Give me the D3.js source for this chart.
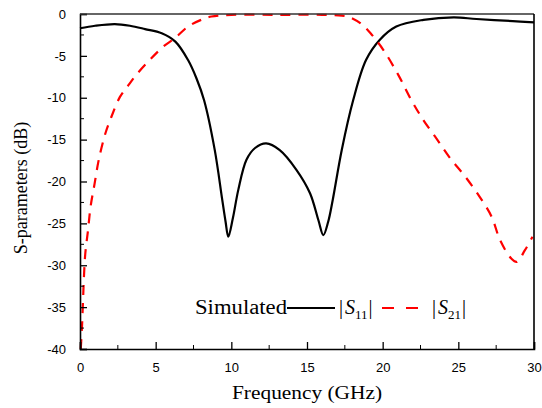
<!DOCTYPE html>
<html>
<head>
<meta charset="utf-8">
<script src="https://cdn.jsdelivr.net/npm/d3@7"></script>
<style>
  body { margin: 0; background: #fff; }
  svg { display: block; }
</style>
</head>
<body>
<div id="chart"></div>
<script>
// |S11| 曲线 (GHz, dB)
const s11Freq = [0, 1, 2.3, 3.3, 4.3, 5.4, 6.3, 7.14, 7.7, 8.2, 8.9, 9.4, 9.62, 9.8, 10.1, 10.46, 11.0, 11.57, 12.3, 13.2, 14.3, 15.2, 15.75, 16.08, 16.4, 16.7, 17.3, 18.05, 18.9, 19.8, 20.9, 22.7, 24.7, 26.2, 28.6, 30];
const s11Db   = [-1.7, -1.4, -1.2, -1.4, -1.8, -2.3, -3.3, -5.5, -7.7, -10.3, -16.2, -22.2, -24.8, -26.6, -24.4, -21.0, -17.4, -16.0, -15.45, -16.25, -18.6, -21.4, -24.6, -26.4, -24.8, -22.2, -16.2, -10.3, -5.5, -3.1, -1.5, -0.7, -0.4, -0.6, -0.85, -1.0];

// |S21| 曲线 (GHz, dB)
const s21Freq = [0.05, 0.13, 0.2, 0.26, 0.35, 0.53, 0.7, 0.97, 1.24, 1.67, 2.07, 2.64, 3.2, 3.7, 4.6, 5.5, 6.26, 7.14, 8.0, 8.68, 10, 13, 16, 17.3, 17.85, 18.6, 19.2, 20.05, 21.04, 21.9, 22.7, 23.57, 24.45, 25.45, 26.4, 27.2, 27.76, 28.5, 28.86, 29.4, 29.9];
const s21Db   = [-40, -37.4, -34.2, -31.4, -28.6, -25.8, -23.0, -20.2, -17.4, -14.3, -12.3, -9.9, -8.5, -7.3, -5.5, -3.9, -2.9, -1.5, -0.7, -0.3, -0.1, -0.1, -0.1, -0.2, -0.4, -1.2, -2.3, -4.3, -7.3, -10.3, -12.7, -14.9, -17.2, -19.4, -21.8, -24.2, -27.0, -29.2, -29.6, -28.2, -26.6];

const xTicks = [0, 5, 10, 15, 20, 25, 30];
const yTicks = [0, -5, -10, -15, -20, -25, -30, -35, -40];

const width = 542, height = 408;
const margin = { top: 14, right: 8, bottom: 59, left: 80 };
const innerW = width - margin.left - margin.right;
const innerH = height - margin.top - margin.bottom;

const svg = d3.select("#chart").append("svg")
  .attr("width", width)
  .attr("height", height);

const g = svg.append("g")
  .attr("transform", `translate(${margin.left},${margin.top})`);

const x = d3.scaleLinear().domain([0, 30]).range([0, innerW]);
const y = d3.scaleLinear().domain([-40, 0]).range([innerH, 0]);

// 曲线
const line = d3.line()
  .x(d => x(d[0]))
  .y(d => y(d[1]))
  .curve(d3.curveCatmullRom.alpha(0.5));

g.append("path")
  .datum(d3.zip(s11Freq, s11Db))
  .attr("d", line)
  .attr("fill", "none")
  .attr("stroke", "#000")
  .attr("stroke-width", 2.2);

g.append("path")
  .datum(d3.zip(s21Freq, s21Db))
  .attr("d", line)
  .attr("fill", "none")
  .attr("stroke", "#ff0000")
  .attr("stroke-width", 2.2)
  .attr("stroke-dasharray", "10,8");

// 坐标轴 (刻度朝内)
const minorX = d3.range(2.5, 30, 5);
const minorY = d3.range(-2.5, -40, -5);

const xAxis = g.append("g")
  .attr("transform", `translate(0,${innerH})`)
  .call(d3.axisBottom(x).tickValues(xTicks).tickSize(-7).tickPadding(14).tickFormat(d3.format("d")));
xAxis.append("g")
  .selectAll("line")
  .data(minorX)
  .join("line")
  .attr("x1", d => x(d)).attr("x2", d => x(d))
  .attr("y1", 0).attr("y2", -4)
  .attr("stroke", "#000");

const yAxis = g.append("g")
  .call(d3.axisLeft(y).tickValues(yTicks).tickSize(-7).tickPadding(14).tickFormat(d3.format("d")));
yAxis.append("g")
  .selectAll("line")
  .data(minorY)
  .join("line")
  .attr("x1", 0).attr("x2", 4)
  .attr("y1", d => y(d)).attr("y2", d => y(d))
  .attr("stroke", "#000");

[xAxis, yAxis].forEach(a => {
  a.select(".domain").attr("stroke-width", 1.6);
  a.selectAll(".tick line").attr("stroke-width", 1.3);
  a.selectAll("text")
    .attr("font-family", "Liberation Sans, Arial, sans-serif")
    .attr("font-size", 13)
    .attr("fill", "#000");
});
yAxis.selectAll(".tick text").text(d => d === 0 ? "0" : "-" + Math.abs(d));

// 上/右边框
g.append("line")
  .attr("x1", 0).attr("x2", innerW).attr("y1", 0).attr("y2", 0)
  .attr("stroke", "#333").attr("stroke-width", 1.6);
g.append("line")
  .attr("x1", innerW).attr("x2", innerW).attr("y1", 0).attr("y2", innerH)
  .attr("stroke", "#000").attr("stroke-width", 1.6);

// 轴标题
svg.append("text")
  .attr("x", 232).attr("y", 399)
  .attr("font-family", "Liberation Serif, Times New Roman, serif")
  .attr("font-size", 18)
  .attr("textLength", 150)
  .attr("lengthAdjust", "spacingAndGlyphs")
  .text("Frequency (GHz)");

svg.append("text")
  .attr("transform", "translate(27,188) rotate(-90)")
  .attr("text-anchor", "middle")
  .attr("font-family", "Liberation Serif, Times New Roman, serif")
  .attr("font-size", 18)
  .text("S-parameters (dB)");

// 图例
const legend = svg.append("g").attr("font-family", "Liberation Serif, Times New Roman, serif");
legend.append("text")
  .attr("x", 195).attr("y", 314)
  .attr("font-size", 20)
  .attr("textLength", 92)
  .attr("lengthAdjust", "spacingAndGlyphs")
  .text("Simulated");
legend.append("line")
  .attr("x1", 287).attr("x2", 335).attr("y1", 308).attr("y2", 308)
  .attr("stroke", "#000").attr("stroke-width", 2.2);

function absLabel(x0, sub) {
  const t = legend.append("text").attr("x", x0).attr("y", 314).attr("font-size", 20);
  t.append("tspan").text("|");
  t.append("tspan").attr("font-style", "italic").attr("dx", 2).text("S");
  t.append("tspan").attr("font-size", 13).attr("dy", 5).text(sub);
  t.append("tspan").attr("dy", -5).attr("dx", 1).text("|");
}
absLabel(339, "11");
legend.append("line")
  .attr("x1", 382).attr("x2", 419).attr("y1", 308).attr("y2", 308)
  .attr("stroke", "#ff0000").attr("stroke-width", 2.2)
  .attr("stroke-dasharray", "12,12");
absLabel(432, "21");
</script>
</body>
</html>
